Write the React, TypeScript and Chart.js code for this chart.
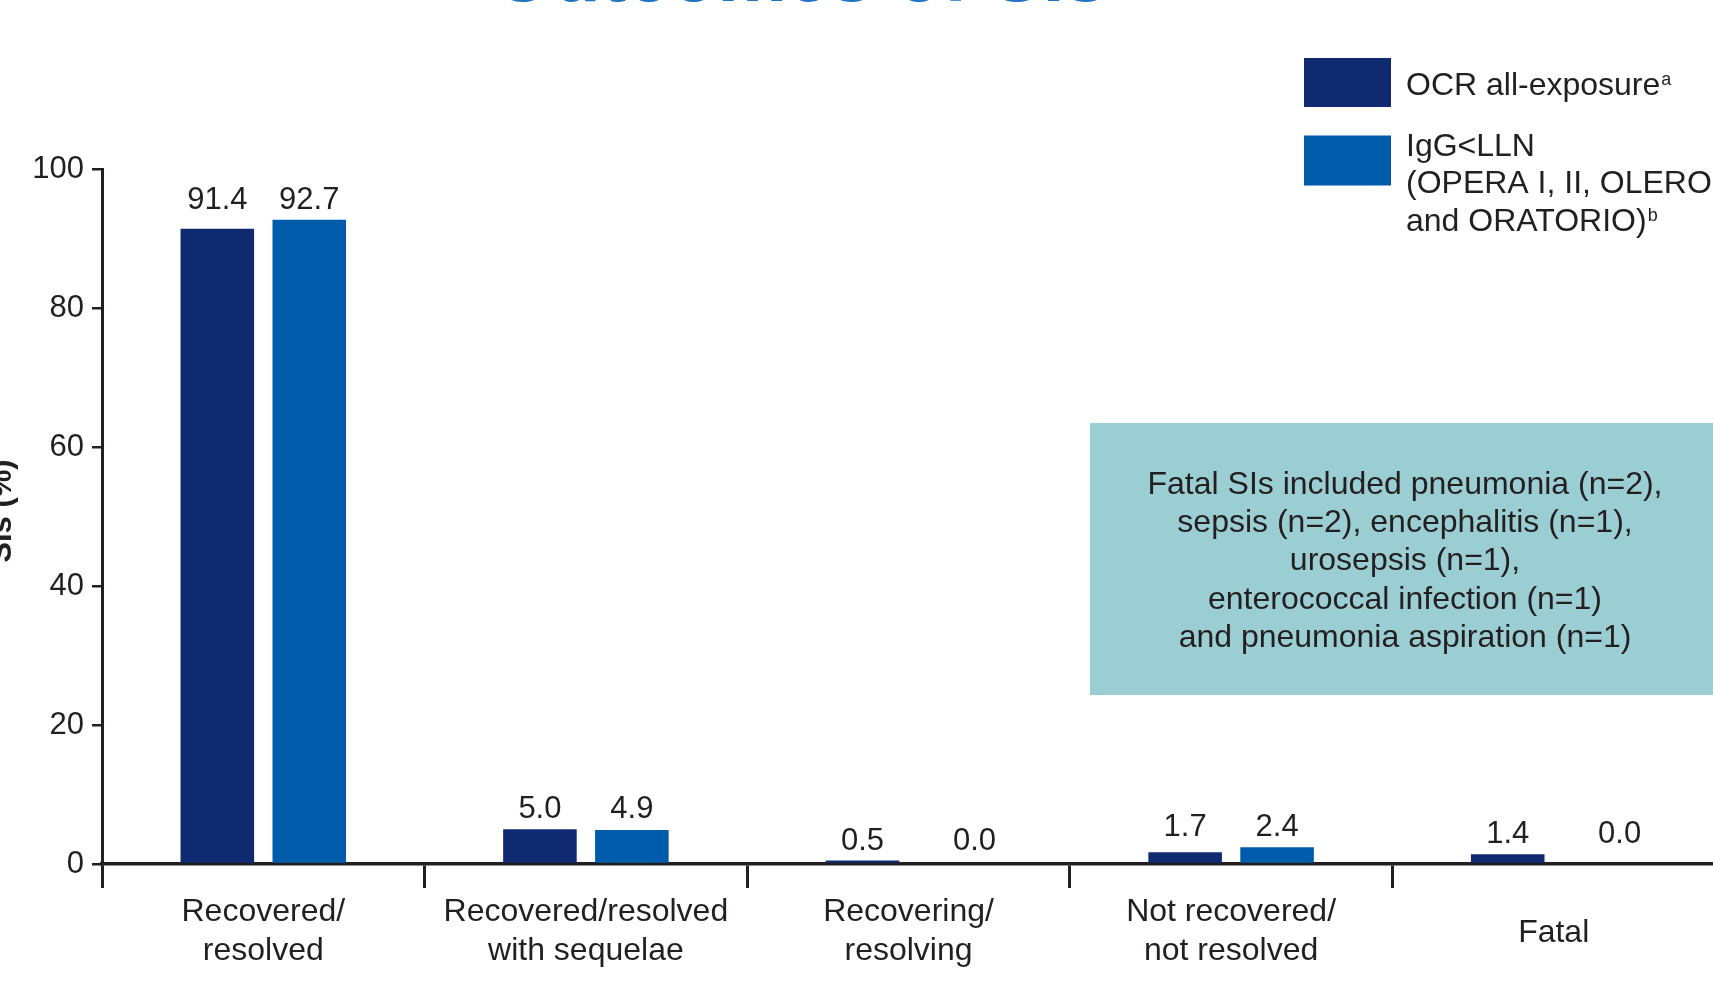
import React, { useEffect, useRef } from "react";
import { Chart, registerables } from "chart.js";

Chart.register(...registerables);

// Outcome categories (multi-line axis labels)
const categories: string[][] = [
  ["Recovered/", "resolved"],
  ["Recovered/resolved", "with sequelae"],
  ["Recovering/", "resolving"],
  ["Not recovered/", "not resolved"],
  ["Fatal"],
];

// Percentage of serious infections per outcome
const ocrAllExposure = [91.4, 5.0, 0.5, 1.7, 1.4];
const iggBelowLln = [92.7, 4.9, 0.0, 2.4, 0.0];

const yTickValues = [0, 20, 40, 60, 80, 100];

const seriesLabels = ["OCR all-exposure", "IgG<LLN (OPERA I, II, OLERO and ORATORIO)"];
const legendLines = [["OCR all-exposure"], ["IgG<LLN", "(OPERA I, II, OLERO", "and ORATORIO)"]];
const legendFootnotes = ["a", "b"];

const fatalNoteLines = [
  "Fatal SIs included pneumonia (n=2),",
  "sepsis (n=2), encephalitis (n=1),",
  "urosepsis (n=1),",
  "enterococcal infection (n=1)",
  "and pneumonia aspiration (n=1)",
];

const chartTitle = "Outcomes of SIs";
const yAxisTitle = "SIs (%)";

const NAVY = "#0f2a70";
const BLUE = "#005baa";
const INK = "#231f20";
const NOTE_BG = "#9bced3";
const TITLE_BLUE = "#1f72c4";
const FONT = '"Liberation Sans", Arial, Helvetica, sans-serif';

const CANVAS_W = 1730;
const CANVAS_H = 984;
const PLOT_RIGHT = 1715;

const decorations = {
  id: "decorations",
  afterDraw(chart: any) {
    const { ctx, chartArea } = chart;
    const xs = chart.scales.x;
    const ys = chart.scales.y;
    ctx.save();

    // Slide title (runs off the top edge)
    ctx.font = `bold 78px ${FONT}`;
    ctx.fillStyle = TITLE_BLUE;
    ctx.textAlign = "center";
    ctx.textBaseline = "alphabetic";
    ctx.fillText(chartTitle, 800, 1);

    // Rotated y-axis title
    ctx.save();
    ctx.translate(11, 511);
    ctx.rotate(-Math.PI / 2);
    ctx.font = `bold 31px ${FONT}`;
    ctx.fillStyle = INK;
    ctx.fillText(yAxisTitle, 0, 0);
    ctx.restore();

    // Value labels, aligned per category above the taller bar;
    // labels of empty bars sit a little further out
    ctx.font = `31px ${FONT}`;
    ctx.fillStyle = INK;
    categories.forEach((_, i) => {
      const values = chart.data.datasets.map((d: any) => d.data[i] as number);
      const yTop = ys.getPixelForValue(Math.max(...values));
      values.forEach((v: number, di: number) => {
        const bar = chart.getDatasetMeta(di).data[i];
        const dx = v === 0 ? 20 : 0;
        ctx.fillText(v.toFixed(1), bar.x + dx, yTop - 11);
      });
    });

    // Category labels
    ctx.font = `32px ${FONT}`;
    categories.forEach((lines, i) => {
      const cx = xs.getPixelForValue(i);
      const base = chartArea.bottom + (lines.length === 1 ? 78 : 57);
      lines.forEach((line, li) => ctx.fillText(line, cx, base + li * 39));
    });

    // Note box about fatal SIs
    ctx.fillStyle = NOTE_BG;
    ctx.fillRect(1090, 423, 640, 272);
    ctx.fillStyle = INK;
    fatalNoteLines.forEach((line, i) => ctx.fillText(line, 1405, 494 + i * 38.2));

    // Legend
    const boxes = [
      { y: 58, h: 49, baselines: [95] },
      { y: 135.5, h: 50, baselines: [156, 193, 231] },
    ];
    ctx.textAlign = "left";
    chart.data.datasets.forEach((ds: any, di: number) => {
      const b = boxes[di];
      ctx.fillStyle = ds.backgroundColor;
      ctx.fillRect(1304, b.y, 87, b.h);
      ctx.fillStyle = INK;
      ctx.font = `32px ${FONT}`;
      const lines = legendLines[di];
      lines.forEach((line, li) => ctx.fillText(line, 1406, b.baselines[li]));
      const last = lines[lines.length - 1];
      const w = ctx.measureText(last).width;
      ctx.font = `18px ${FONT}`;
      ctx.fillText(legendFootnotes[di], 1406 + w + 1, b.baselines[lines.length - 1] - 10);
    });

    ctx.restore();
  },
};

export default function App() {
  const canvasRef = useRef<HTMLCanvasElement | null>(null);

  useEffect(() => {
    const canvas = canvasRef.current;
    if (!canvas) return;
    const chart = new Chart(canvas, {
      type: "bar",
      data: {
        labels: categories.map((c) => c.join(" ")),
        datasets: [
          {
            label: seriesLabels[0],
            data: ocrAllExposure,
            backgroundColor: NAVY,
            categoryPercentage: 0.57,
            barPercentage: 0.8,
          },
          {
            label: seriesLabels[1],
            data: iggBelowLln,
            backgroundColor: BLUE,
            categoryPercentage: 0.57,
            barPercentage: 0.8,
          },
        ],
      },
      options: {
        responsive: false,
        animation: false,
        devicePixelRatio: 1,
        events: [],
        layout: { padding: { left: 0, top: 169, right: CANVAS_W - PLOT_RIGHT, bottom: 0 } },
        plugins: {
          legend: { display: false },
          tooltip: { enabled: false },
          title: { display: false },
        },
        scales: {
          x: {
            offset: true,
            grid: {
              offset: true,
              drawOnChartArea: false,
              drawTicks: true,
              tickLength: 24,
              lineWidth: 3,
              color: INK,
            },
            border: { display: true, color: INK, width: 3.5 },
            ticks: { display: false },
            afterFit: (s: any) => {
              s.height = 120;
              s.paddingLeft = 0;
              s.paddingRight = 0;
            },
          },
          y: {
            min: 0,
            max: 100,
            afterBuildTicks: (s: any) => {
              s.ticks = yTickValues.map((v) => ({ value: v }));
            },
            grid: { drawOnChartArea: false, tickLength: 10, lineWidth: 2.5, color: INK },
            border: { display: true, color: INK, width: 3 },
            ticks: {
              font: { family: FONT, size: 31 },
              color: INK,
              padding: 8,
              callback: (v: any) => String(v),
            },
            afterFit: (s: any) => {
              s.width = 102;
              s.paddingTop = 0;
              s.paddingBottom = 0;
            },
          },
        },
      },
      plugins: [decorations],
    });
    return () => chart.destroy();
  }, []);

  return (
    <div
      style={{
        position: "fixed",
        left: 0,
        top: 0,
        width: 1713,
        height: 984,
        overflow: "hidden",
        background: "#fff",
      }}
    >
      <canvas
        ref={canvasRef}
        width={CANVAS_W}
        height={CANVAS_H}
        style={{ display: "block", width: CANVAS_W, height: CANVAS_H }}
      />
    </div>
  );
}
